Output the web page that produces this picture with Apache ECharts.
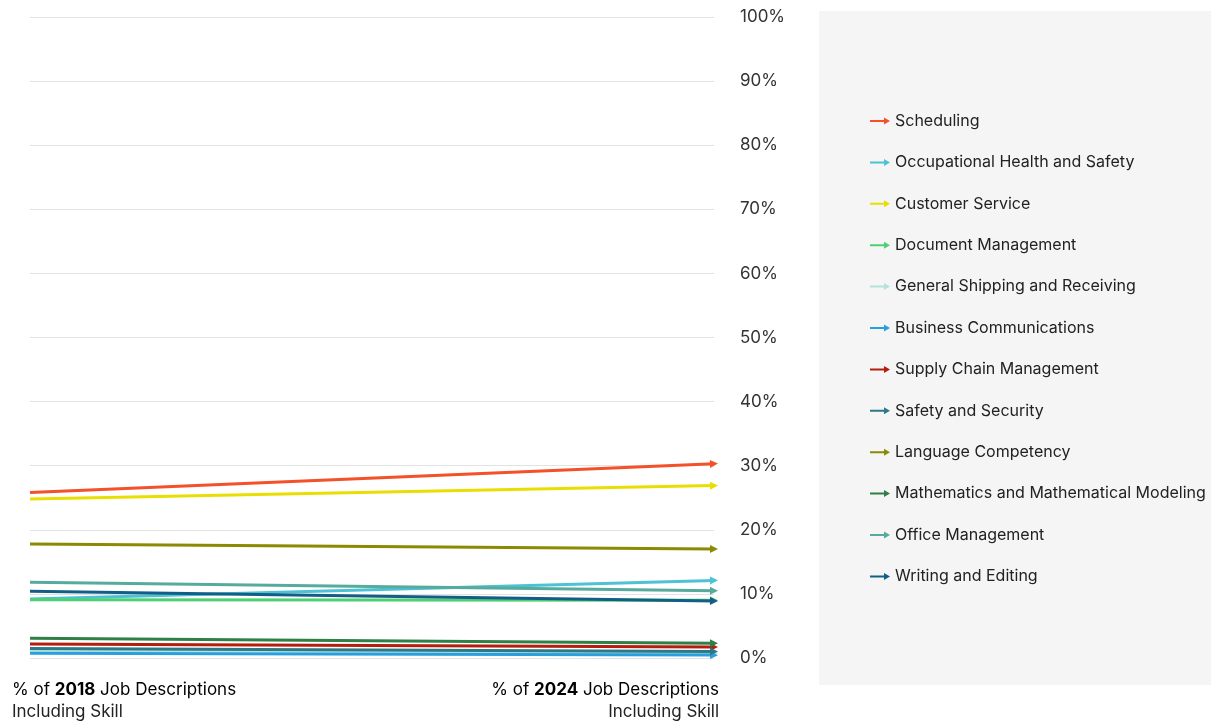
<!DOCTYPE html>
<html>
<head>
<meta charset="utf-8">
<script src="https://cdn.jsdelivr.net/npm/echarts@6/dist/echarts.min.js"></script>
<style>html,body{margin:0;padding:0;background:#fff}#c{width:1211px;height:725px}</style>
</head>
<body>
<div id="c"></div>
<script>
var years = ['2018', '2024'];
var skills = ['Scheduling','Occupational Health and Safety','Customer Service','Document Management','General Shipping and Receiving','Business Communications','Supply Chain Management','Safety and Security','Language Competency','Mathematics and Mathematical Modeling','Office Management','Writing and Editing'];
var values2018 = [25.8, 9.2, 24.8, 9.1, 1.2, 0.75, 2.2, 1.5, 17.8, 3.1, 11.8, 10.4];
var values2024 = [30.3, 12.1, 26.9, 9.0, 0.8, 0.45, 1.7, 1.0, 17.0, 2.3, 10.5, 8.9];
var colors = ['#f4502a','#4cc2d4','#e8df00','#4fcf73','#b3e2dc','#2a9fe0','#b51e0e','#2d7a86','#8c8a00','#2e8046','#57ab9d','#135e86'];
var yTicks = [0,10,20,30,40,50,60,70,80,90,100];
var xTitles = [['% of ', '2018', ' Job Descriptions', 'Including Skill'], ['% of ', '2024', ' Job Descriptions', 'Including Skill']];

var chart = echarts.init(document.getElementById('c'), null, {renderer: 'canvas'});
var FONT = 'Inter, "Noto Sans", sans-serif';
var arrowIcon = 'path://M0,4 L14,4 L14,1.5 L20,5 L14,8.5 L14,6 L0,6 Z';

var series = skills.map(function (name, i) {
  return {
    name: name,
    type: 'line',
    data: [values2018[i], values2024[i]],
    showSymbol: false,
    symbol: 'none',
    silent: true,
    lineStyle: {width: 0, opacity: 0},
    itemStyle: {color: colors[i]},
    markLine: {
      silent: true,
      animation: false,
      symbol: ['none', 'triangle'],
      symbolSize: [8, 8],
      label: {show: false},
      lineStyle: {color: colors[i], width: 3, type: 'solid'},
      itemStyle: {color: colors[i]},
      emphasis: {disabled: true},
      data: [[{coord: [years[0], values2018[i]]}, {coord: [years[1], values2024[i]]}]]
    }
  };
});

function line1(t) { return '{n|' + t[0] + '}{b|' + t[1] + '}{n|' + t[2] + '}'; }
var richStyle = {
  n: {fontFamily: FONT, fontSize: 17, color: '#222'},
  b: {fontFamily: FONT, fontSize: 17, color: '#222', fontWeight: 'bold'}
};

chart.setOption({
  animation: false,
  color: colors,
  textStyle: {fontFamily: FONT},
  graphic: [
    {type: 'rect', left: 819, top: 11, shape: {width: 392, height: 674}, style: {fill: '#f5f5f5'}, z: -10, silent: true},
    {type: 'text', left: 12, top: 681, style: {text: line1(xTitles[0]), rich: richStyle}},
    {type: 'text', left: 12, top: 703, style: {text: xTitles[0][3], font: '17px ' + FONT, fill: '#222'}},
    {type: 'text', right: 1211 - 719, top: 681, style: {text: line1(xTitles[1]), rich: richStyle}},
    {type: 'text', right: 1211 - 719, top: 703, style: {text: xTitles[1][3], font: '17px ' + FONT, fill: '#222'}}
  ],
  grid: {left: 30, right: 497, top: 17, bottom: 67, containLabel: false},
  legend: {
    orient: 'vertical',
    left: 865,
    top: 108,
    icon: arrowIcon,
    itemWidth: 20,
    itemHeight: 10,
    itemGap: 25.4,
    selectedMode: false,
    textStyle: {fontFamily: FONT, fontSize: 16, color: '#222'},
    data: skills
  },
  xAxis: {
    type: 'category',
    data: years,
    boundaryGap: false,
    axisLine: {show: false},
    axisTick: {show: false},
    axisLabel: {show: false},
    splitLine: {show: false}
  },
  yAxis: {
    type: 'value',
    position: 'right',
    min: yTicks[0],
    max: yTicks[yTicks.length - 1],
    interval: 10,
    axisLine: {show: false},
    axisTick: {show: false},
    splitLine: {lineStyle: {color: '#e2e2e2', width: 1}},
    axisLabel: {margin: 26, fontFamily: FONT, fontSize: 17, color: '#333', formatter: '{value}%'}
  },
  series: series
});
</script>
</body>
</html>
